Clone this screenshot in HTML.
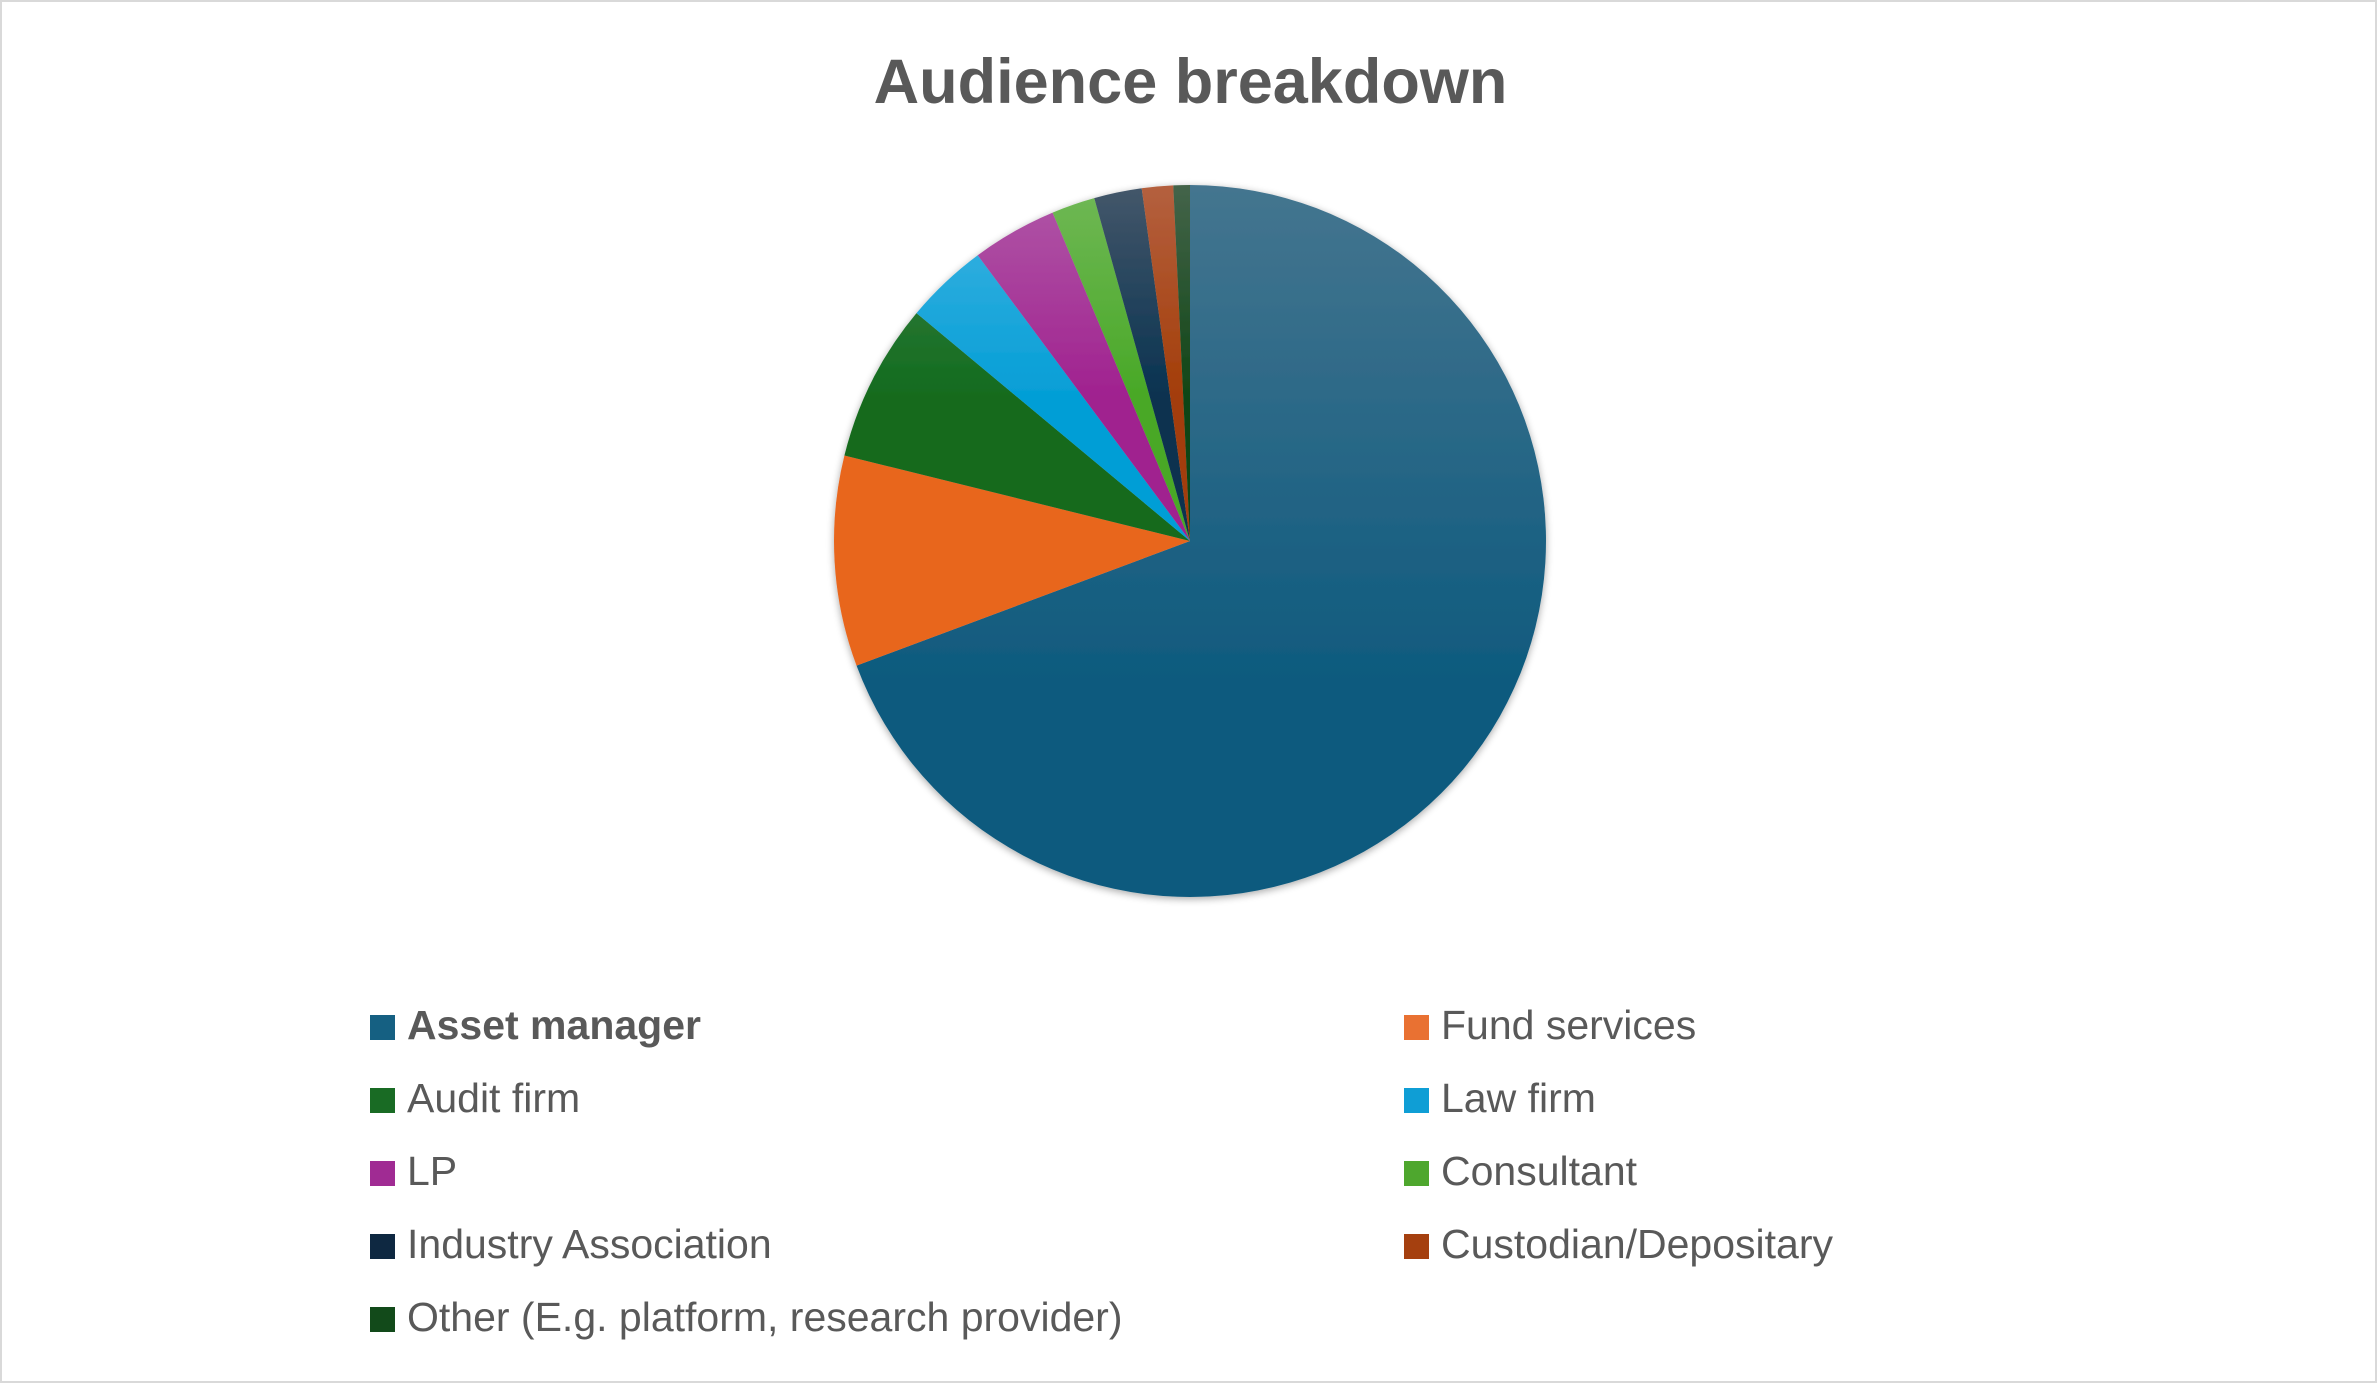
<!DOCTYPE html>
<html><head><meta charset="utf-8"><style>
html,body{margin:0;padding:0;background:#fff}
#c{position:relative;width:2377px;height:1383px;box-sizing:border-box;border:2px solid #d9d9d9;background:#fff;font-family:"Liberation Sans",sans-serif;color:#595959}
.t{position:absolute;left:0;width:2377px;top:44px;text-align:center;font-size:63px;font-weight:bold;color:#595959}
.l{position:absolute;font-size:41px;white-space:nowrap}
.l i{position:absolute;left:-37px;top:13px;width:25px;height:25px}
</style></head><body><div id="c">
<div class="t">Audience breakdown</div>
<svg id="s" width="2377" height="1383" style="position:absolute;left:0;top:0">
<defs><filter id="sh" x="-10%" y="-10%" width="120%" height="120%"><feGaussianBlur in="SourceAlpha" stdDeviation="4"/><feOffset dx="0" dy="2"/><feComponentTransfer><feFuncA type="linear" slope="0.35"/></feComponentTransfer><feMerge><feMergeNode/><feMergeNode in="SourceGraphic"/></feMerge></filter></defs>
<g id="g" filter="url(#sh)"></g></svg>
<div class="l" style="left:405px;top:1000px;font-weight:bold"><i style="background:#156082"></i>Asset manager</div>
<div class="l" style="left:1439px;top:1000px"><i style="background:#e97132"></i>Fund services</div>
<div class="l" style="left:405px;top:1073px"><i style="background:#196b24"></i>Audit firm</div>
<div class="l" style="left:1439px;top:1073px"><i style="background:#0f9ed5"></i>Law firm</div>
<div class="l" style="left:405px;top:1146px"><i style="background:#a02b93"></i>LP</div>
<div class="l" style="left:1439px;top:1146px"><i style="background:#4ea72e"></i>Consultant</div>
<div class="l" style="left:405px;top:1219px"><i style="background:#0e2841"></i>Industry Association</div>
<div class="l" style="left:1439px;top:1219px"><i style="background:#a5400f"></i>Custodian/Depositary</div>
<div class="l" style="left:405px;top:1292px"><i style="background:#124a1a"></i>Other (E.g. platform, research provider)</div>
</div>
<script>
var cx=1188,cy=539,r=356;
var ends=[249.5,283.9,309.8,323.4,337.3,344.4,352.2,357.3,360];
var cols=[["#44758f","#0e5a7e"],["#ef8a55","#e8661f"],["#3f8349","#126b1e"],["#42b4e2","#049ed6"],["#b058a7","#a0218f"],["#70b856","#48a826"],["#44576a","#083250"],["#b4603f","#a33d08"],["#44644a","#0f4515"]];
var svg="",defs="",a0=0;
function pt(a){a=a*Math.PI/180;return [cx+r*Math.sin(a),cy-r*Math.cos(a)];}
for(var i=0;i<ends.length;i++){
 var a1=ends[i],p0=pt(a0),p1=pt(a1),lg=(a1-a0)>180?1:0;
 defs+='<linearGradient id="gr'+i+'" gradientUnits="userSpaceOnUse" x1="0" y1="'+(cy-r)+'" x2="0" y2="'+(i==0?cy+r:cy)+'"><stop offset="0" stop-color="'+cols[i][0]+'"/><stop offset="'+(i==0?0.7:0.6)+'" stop-color="'+cols[i][1]+'"/><stop offset="1" stop-color="'+cols[i][1]+'"/></linearGradient>';
 svg+='<path d="M'+cx+','+cy+' L'+p0[0]+','+p0[1]+' A'+r+','+r+' 0 '+lg+' 1 '+p1[0]+','+p1[1]+' Z" fill="url(#gr'+i+')"/>';
 a0=a1;}
document.querySelector('defs').insertAdjacentHTML('beforeend',defs);
document.getElementById('g').innerHTML=svg;
</script>
</body></html>
